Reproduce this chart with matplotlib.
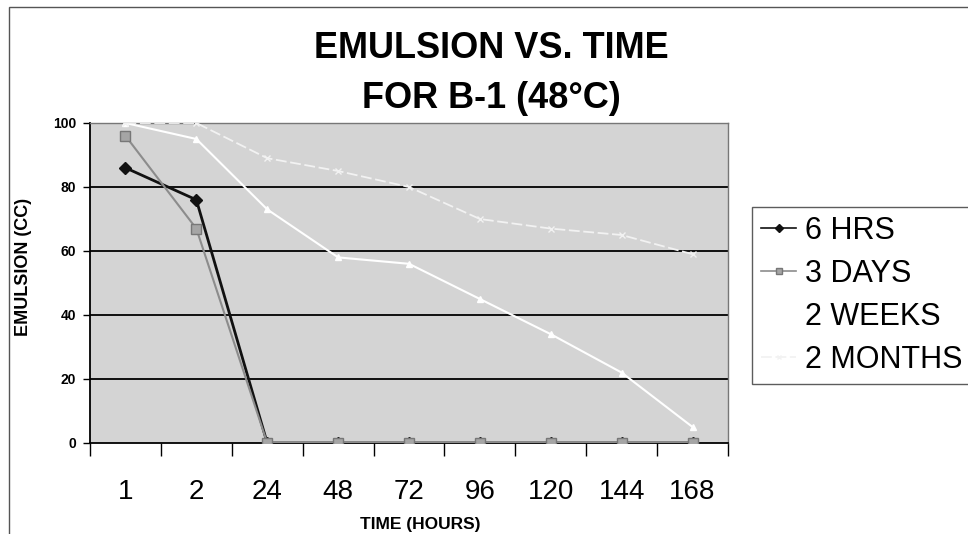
import matplotlib.pyplot as plt
import numpy as np
from matplotlib.patches import Rectangle
from matplotlib.ticker import FixedLocator

plt.rcParams['font.family'] = ['Liberation Sans', 'DejaVu Sans']

# data
hours = ["1", "2", "24", "48", "72", "96", "120", "144", "168"]
six_hrs = [86, 76, 0, 0, 0, 0, 0, 0, 0]
three_days = [96, 67, 0, 0, 0, 0, 0, 0, 0]
two_weeks = [100, 95, 73, 58, 56, 45, 34, 22, 5]
two_months = [100, 100, 89, 85, 80, 70, 67, 65, 59]

W, H = 968, 534
fig = plt.figure(figsize=(W / 100, H / 100), dpi=100)
ax = fig.add_axes([90 / W, 1 - 443 / H, (728 - 90) / W, (443 - 123) / H])
ax.set_facecolor('#d4d4d4')

x = np.arange(len(hours))

# outer chart border
fig.patches.append(Rectangle((9 / W, -0.1), 2, 1 - 7 / H + 0.1, transform=fig.transFigure,
                             fill=False, edgecolor='#555555', lw=1))

ax.plot(x, six_hrs, color='#111111', lw=2, marker='D', ms=6, mfc='#111111', mec='#111111',
        label='6 HRS', zorder=4)
ax.plot(x, three_days, color='#8c8c8c', lw=1.5, marker='s', ms=7, mfc='#a5a5a5', mec='#777777',
        label='3 DAYS', zorder=5)
ax.plot(x, two_weeks, color='white', lw=1.5, marker='^', ms=5, mfc='white', mec='white',
        label='2 WEEKS', zorder=3)
ax.plot(x, two_months, color='#f2f2f2', lw=1.3, ls=(0, (6, 2)), marker='x', ms=5, mec='#f2f2f2',
        label='2 MONTHS', zorder=3)

ax.set_xlim(-0.5, len(hours) - 0.5)
ax.set_ylim(0, 100)

for y in [20, 40, 60, 80]:
    ax.axhline(y, color='black', lw=1.3, zorder=1)

ax.set_yticks([0, 20, 40, 60, 80, 100])
ax.tick_params(axis='y', direction='out', length=5, width=1, labelsize=10, pad=5)
for t in ax.get_yticklabels():
    t.set_fontweight('bold')

ax.set_xticks(x)
ax.set_xticklabels(hours)
ax.xaxis.set_minor_locator(FixedLocator(np.arange(-0.5, len(hours), 1)))
ax.tick_params(axis='x', which='major', length=0, labelsize=20, pad=26)
ax.tick_params(axis='x', which='minor', direction='out', length=9, width=1)

for s in ['left', 'bottom']:
    ax.spines[s].set_color('black')
    ax.spines[s].set_linewidth(1.3)
for s in ['top', 'right']:
    ax.spines[s].set_color('#777777')
    ax.spines[s].set_linewidth(1)

fig.text(24 / W, 1 - 267 / H, 'EMULSION (CC)', rotation=90, ha='center', va='center',
         fontsize=13, fontweight='bold')
fig.text(420 / W, 1 - 524 / H, 'TIME (HOURS)', ha='center', va='center',
         fontsize=12.5, fontweight='bold')

fig.text(491 / W, 1 - 48 / H, 'EMULSION VS. TIME', ha='center', va='center',
         fontsize=26, fontweight='bold')
fig.text(491 / W, 1 - 98 / H, 'FOR B-1 (48°C)', ha='center', va='center',
         fontsize=26, fontweight='bold')

leg = fig.legend(loc='upper left', bbox_to_anchor=(752 / W, 1 - 207 / H), fontsize=22,
                 frameon=True, fancybox=False, handlelength=1.15, handletextpad=0.3,
                 labelspacing=0.42, borderpad=0.3, borderaxespad=0, markerscale=0.7)
leg.get_frame().set_edgecolor('#333333')
leg.get_frame().set_linewidth(1)
for h in leg.get_lines()[:2]:
    h.set_linewidth(1.2)

fig.savefig('out.png', dpi=100)
